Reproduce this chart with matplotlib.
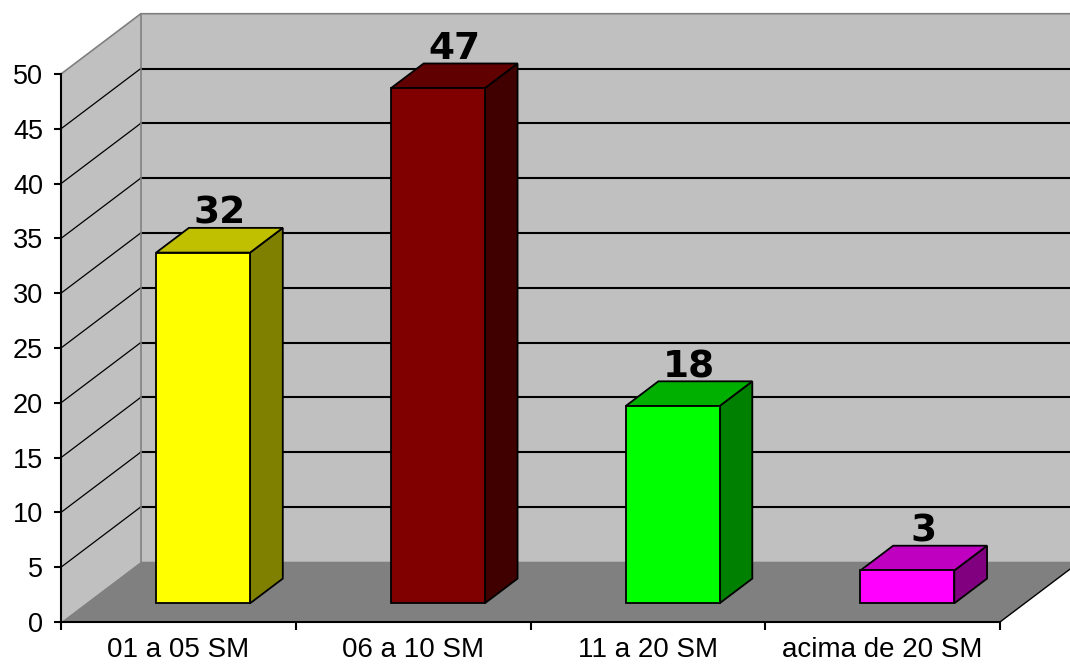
import matplotlib
matplotlib.use("Agg")
import matplotlib.pyplot as plt
from matplotlib.patches import Polygon

# salary bands and counts
categories = ["01 a 05 SM", "06 a 10 SM", "11 a 20 SM", "acima de 20 SM"]
values = [32, 47, 18, 3]
front_colors = ["#FFFF00", "#800000", "#00FF00", "#FF00FF"]
side_colors = ["#808000", "#400000", "#008000", "#800080"]
top_colors = ["#C0C000", "#600000", "#00B000", "#C000C0"]

y_max = 50
y_step = 5

# oblique depth offset (in data units) for a full step into the chart
DX = 0.34
DY = 5.5
bar_width = 0.40
bar_d0, bar_d1 = 0.31, 0.72

wall = "#C0C0C0"
floor = "#808080"
edge_gray = "#808080"


def depth(x, y, d):
    # shift a front-plane point d steps towards the back
    return (x + d * DX, y + d * DY)


fig = plt.figure(figsize=(10.7, 6.66), dpi=100)
ax = fig.add_axes([61 / 1070, 44 / 666, 939 / 1070, 548 / 666])
ax.set_xlim(0, len(categories))
ax.set_ylim(0, y_max)
ax.patch.set_facecolor("none")

n = len(categories)


def poly(points, fc, ec="none", lw=0, z=1):
    p = Polygon(points, closed=True, facecolor=fc, edgecolor=ec,
                linewidth=lw, clip_on=False, zorder=z, joinstyle="miter")
    ax.add_patch(p)


# walls and floor
poly([depth(0, 0, 1), depth(n, 0, 1), depth(n, y_max, 1), depth(0, y_max, 1)], wall, z=0.1)
poly([(0, 0), (0, y_max), depth(0, y_max, 1), depth(0, 0, 1)], wall, z=0.2)
poly([(0, 0), (n, 0), depth(n, 0, 1), depth(0, 0, 1)], floor, z=0.3)

# wall edges
ax.plot(*zip((0, y_max), depth(0, y_max, 1), depth(n, y_max, 1)),
        color=edge_gray, lw=1.2, clip_on=False, zorder=0.5)
ax.plot(*zip(depth(0, 0, 1), depth(0, y_max, 1)),
        color=edge_gray, lw=1.2, clip_on=False, zorder=0.5)
ax.plot(*zip((n, 0), depth(n, 0, 1)),
        color="black", lw=1, clip_on=False, zorder=0.5)

# gridlines on the back and left walls
for v in range(y_step, y_max, y_step):
    ax.plot(*zip(depth(0, v, 1), depth(n, v, 1)), color="black", lw=1.5,
            clip_on=False, zorder=0.4)
    ax.plot(*zip((0, v), depth(0, v, 1)), color="black", lw=0.9,
            clip_on=False, zorder=0.4)

# 3d bars
for i, (v, fc, sc, tc) in enumerate(zip(values, front_colors, side_colors, top_colors)):
    x0 = i + 0.5 - bar_width / 2
    x1 = i + 0.5 + bar_width / 2
    # right side face
    poly([depth(x1, 0, bar_d0), depth(x1, 0, bar_d1),
          depth(x1, v, bar_d1), depth(x1, v, bar_d0)], sc, "black", 1.3, 2)
    # top face
    poly([depth(x0, v, bar_d0), depth(x1, v, bar_d0),
          depth(x1, v, bar_d1), depth(x0, v, bar_d1)], tc, "black", 1.3, 2)
    # front face
    poly([depth(x0, 0, bar_d0), depth(x1, 0, bar_d0),
          depth(x1, v, bar_d0), depth(x0, v, bar_d0)], fc, "black", 1.3, 2.1)
    lx = depth(i + 0.5, v, (bar_d0 + bar_d1) / 2)[0]
    ly = depth(0, v, bar_d1)[1]
    ax.annotate(str(v), (lx, ly), xytext=(0, 3), textcoords="offset points",
                ha="center", va="baseline", fontsize=27, fontweight="heavy",
                family="DejaVu Sans", zorder=3, annotation_clip=False)

# axes
for s in ["top", "right"]:
    ax.spines[s].set_visible(False)
for s in ["left", "bottom"]:
    ax.spines[s].set_linewidth(1.5)
    ax.spines[s].set_zorder(3)

ax.set_yticks(range(0, y_max + 1, y_step))
ax.tick_params(axis="y", direction="out", length=5, width=1.5, pad=8,
               labelsize=19.5)
ax.set_xticks(range(0, n + 1))
ax.set_xticklabels([])
ax.set_xticks([i + 0.5 for i in range(n)], minor=True)
ax.set_xticklabels(categories, minor=True)
ax.tick_params(axis="x", which="major", direction="out", length=6, width=1.5)
ax.tick_params(axis="x", which="minor", length=0, pad=11, labelsize=20)
for lab in ax.get_xticklabels(minor=True) + ax.get_yticklabels():
    lab.set_family("Liberation Sans")

fig.savefig("out.png", dpi=100)
